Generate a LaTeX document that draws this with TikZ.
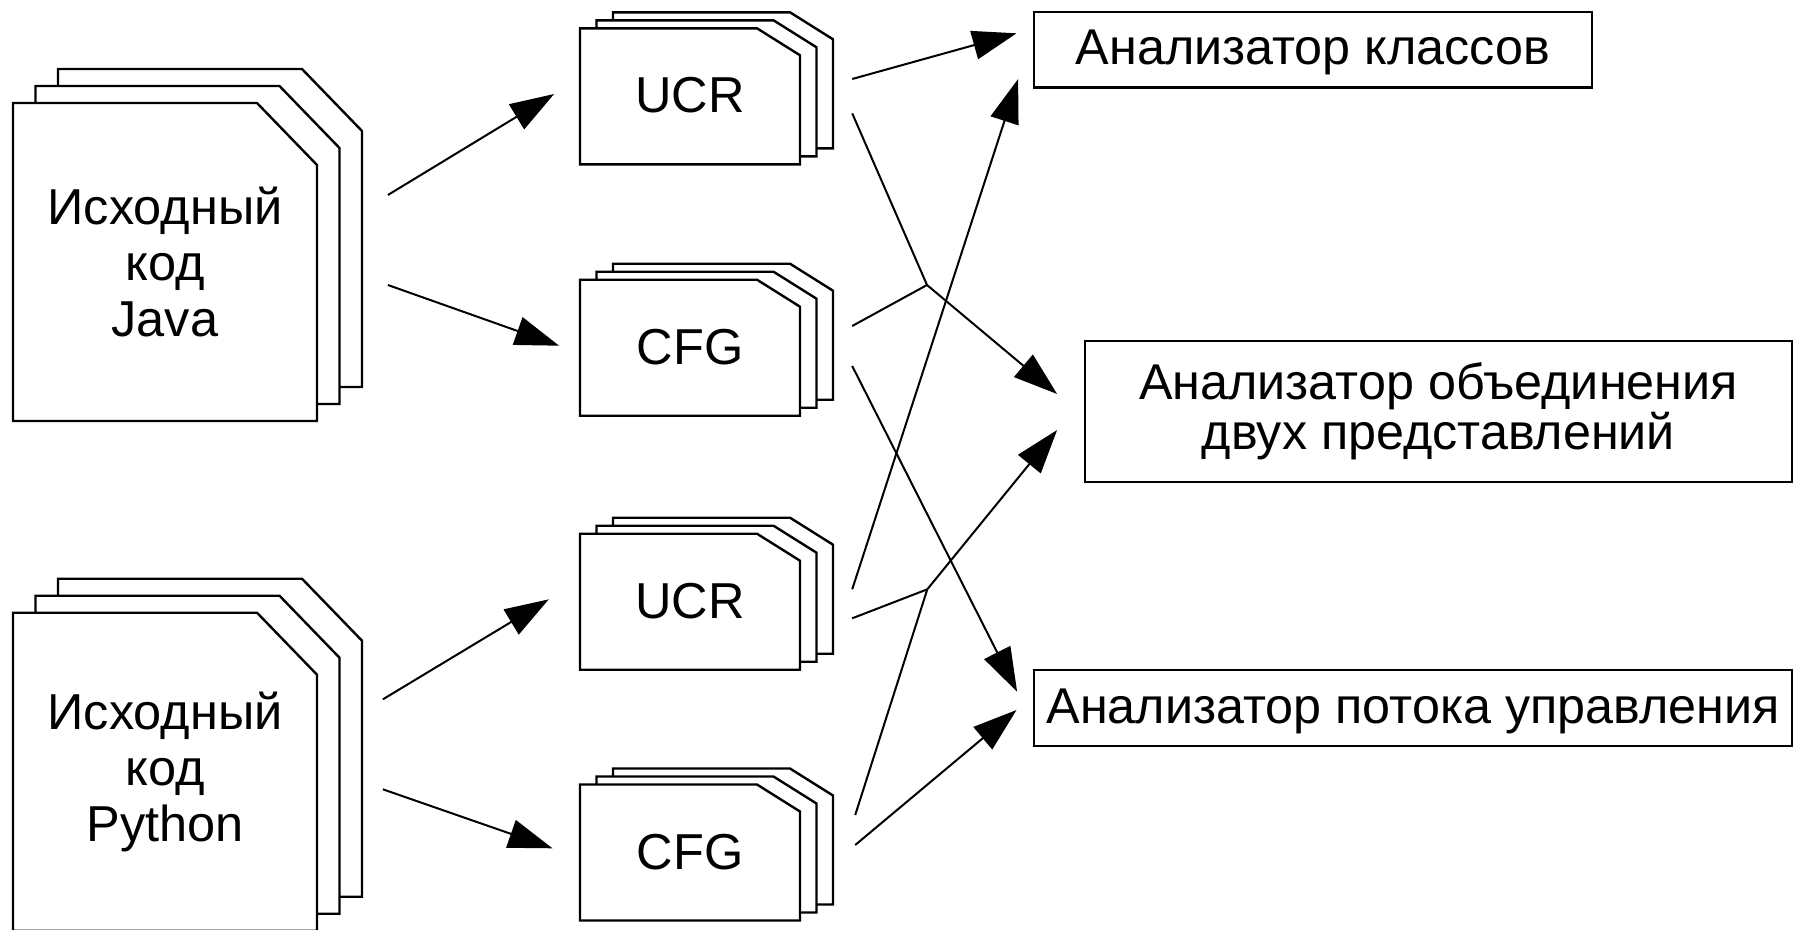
\documentclass[tikz,border=0pt]{standalone}
\usepackage{fontspec}
\setmainfont{Liberation Sans}
\usetikzlibrary{arrows.meta}
\tikzset{
  page/.style={draw=black, fill=white, line width=2.4pt, line join=miter},
  lbl/.style={inner sep=0pt, align=center, font=\fontsize{50.5}{56}\selectfont},
  anbox/.style={draw=black, fill=white, line width=2.4pt, inner sep=0pt, align=center, font=\fontsize{50.3}{56}\selectfont},
  arr/.style={line width=2pt, -{Triangle[length=44pt,width=29pt]}},
  ln/.style={line width=2pt},
}
% #1 cx, #2 cy, #3 w, #4 h, #5 chamfer x, #6 chamfer y, #7 dx, #8 dy
\newcommand\pagestack[8]{%
  \foreach \k in {2,1,0}{
    \draw[page] ({#1-#3/2+\k*#7},{#2+#4/2-\k*#8}) -- ({#1-#3/2+\k*#7},{#2-#4/2-\k*#8})
      -- ({#1+#3/2-#5+\k*#7},{#2-#4/2-\k*#8}) -- ({#1+#3/2+\k*#7},{#2-#4/2+#6-\k*#8})
      -- ({#1+#3/2+\k*#7},{#2+#4/2-\k*#8}) -- cycle;
  }
}
\begin{document}
\begin{tikzpicture}[x=1pt,y=-1pt]
\useasboundingbox (0,0) rectangle (1795,929);
\clip (0,0) rectangle (1795,929);
\fill[white] (0,0) rectangle (1795,929);

% source stacks
\pagestack{165}{262}{304}{318}{60}{62}{22.5}{17}
\node[lbl, minimum width=304pt, minimum height=318pt] (java) at (165,262) {Исходный\\код\\Java};
\pagestack{165}{771.7}{304}{318}{60}{62}{22.5}{17}
\node[lbl, minimum width=304pt, minimum height=318pt] (py) at (165,771.7) {Исходный\\код\\Python};

% intermediate stacks
\pagestack{690}{96.3}{220}{136}{43}{27}{16.5}{8}
\node[lbl, minimum width=220pt, minimum height=136pt] (ucr1) at (690,96.3) {\raisebox{2.5pt}{UCR}};
\pagestack{690}{347.7}{220}{136}{43}{27}{16.5}{8}
\node[lbl, minimum width=220pt, minimum height=136pt] (cfg1) at (690,347.7) {\raisebox{1pt}{CFG}};
\pagestack{690}{601.7}{220}{136}{43}{27}{16.5}{8}
\node[lbl, minimum width=220pt, minimum height=136pt] (ucr2) at (690,601.7) {\raisebox{2.5pt}{UCR}};
\pagestack{690}{852.5}{220}{136}{43}{27}{16.5}{8}
\node[lbl, minimum width=220pt, minimum height=136pt] (cfg2) at (690,852.5) {\raisebox{1pt}{CFG}};

% analyzers
\node[anbox, minimum width=558pt, minimum height=75.6pt, text depth=4pt] (box1) at (1313,49.5) {Анализатор классов};
\node[anbox, minimum width=707pt, minimum height=141pt] (box2) at (1438.5,411.5) {\raisebox{-2pt}{\shortstack{Анализатор объединения\\[-1pt]двух представлений}}};
\node[anbox, minimum width=758pt, minimum height=76pt, text depth=4pt] (box3) at (1413,708) {Анализатор потока управления};

% junctions
\coordinate (j1) at (927,285);
\coordinate (j2) at (927.3,589.3);

% left arrows
\draw[arr] ([shift={(70.7,-67)}]java.east) -- ([shift={(-25.7,-2.3)}]ucr1.west);
\draw[arr] ([shift={(70.7,23)}]java.east) -- ([shift={(-20.7,-2)}]cfg1.west);
\draw[arr] ([shift={(65.7,-72.4)}]py.east) -- ([shift={(-31,-2.4)}]ucr2.west);
\draw[arr] ([shift={(65.7,17.6)}]py.east) -- ([shift={(-27.3,-4.2)}]cfg2.west);

% right connectors
\draw[arr] ([shift={(52,-17.3)}]ucr1.east) -- ([shift={(-16.3,-16.2)}]box1.west);
\draw[ln] ([shift={(52,17)}]ucr1.east) -- (j1);
\draw[ln] ([shift={(52,-21.7)}]cfg1.east) -- (j1);
\draw[arr] (j1) -- ([shift={(-26.7,-17.5)}]box2.west);
\draw[arr] ([shift={(52,18.3)}]cfg1.east) -- ([shift={(-15.7,-16.3)}]box3.west);
\draw[arr] ([shift={(52,-12.4)}]ucr2.east) -- ([shift={(-14.7,29.5)}]box1.west);
\draw[ln] ([shift={(52,16.6)}]ucr2.east) -- (j2);
\draw[ln] ([shift={(55,-37.5)}]cfg2.east) -- (j2);
\draw[arr] (j2) -- ([shift={(-26.7,18.5)}]box2.west);
\draw[arr] ([shift={(55,-7.5)}]cfg2.east) -- ([shift={(-16.3,2)}]box3.west);
\end{tikzpicture}
\end{document}
